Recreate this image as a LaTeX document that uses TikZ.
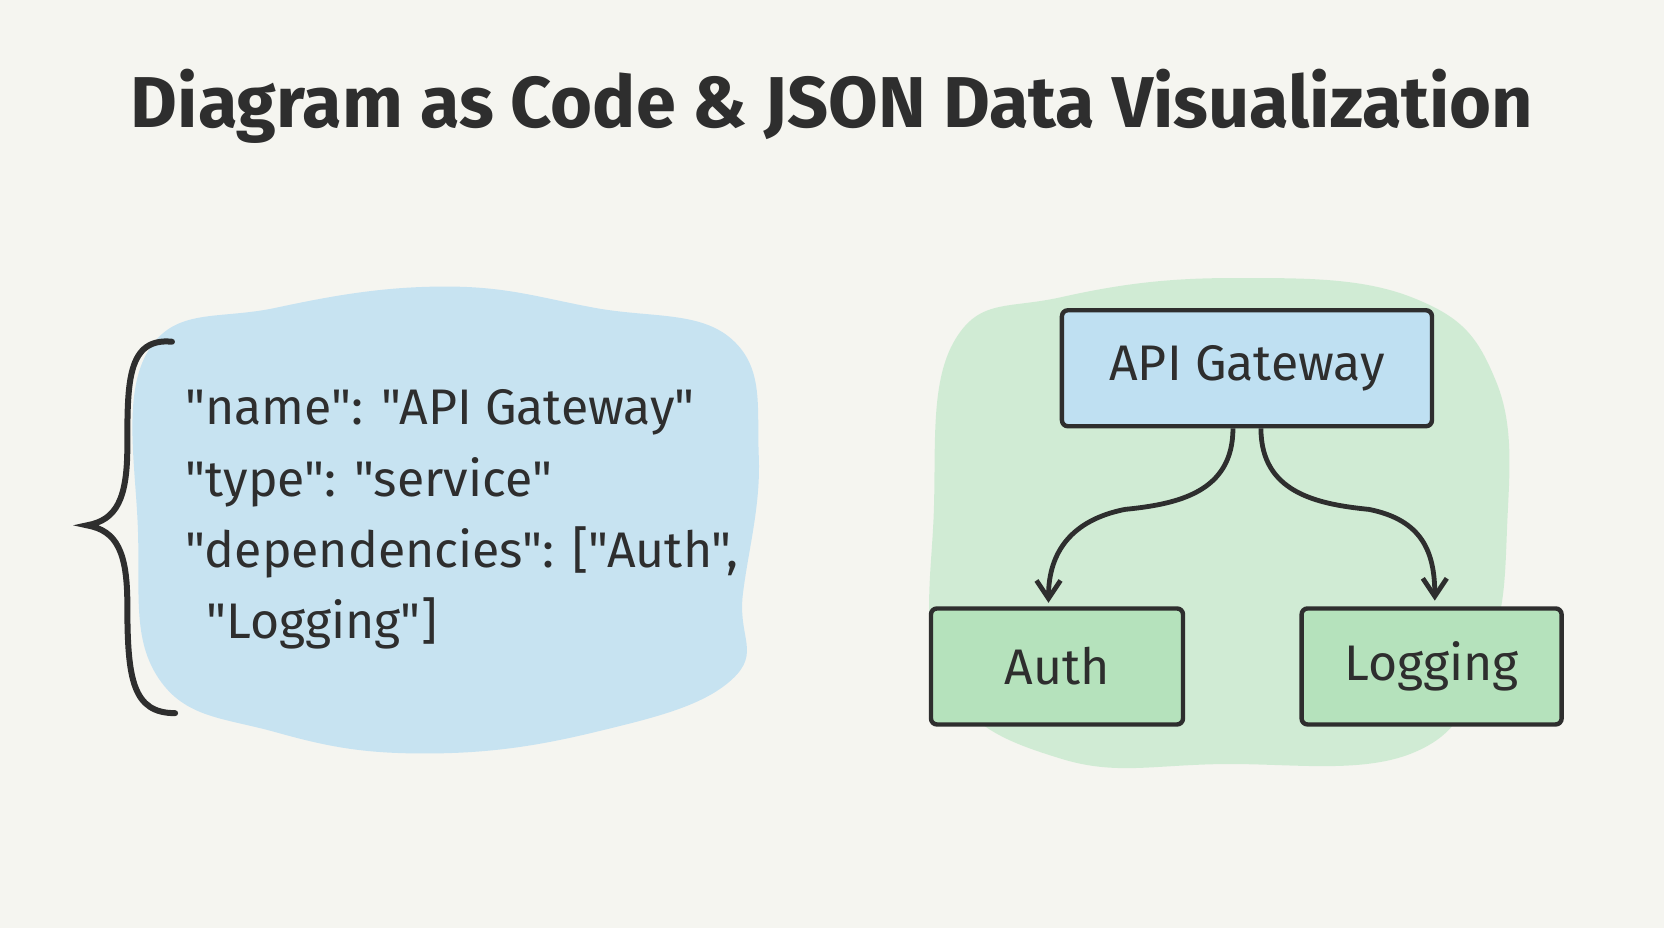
\documentclass[tikz,border=0pt]{standalone}
\usepackage{fontspec}
\setmainfont{Fira Sans}
\newfontfamily\jf{Fira Sans}[Ligatures=ResetAll]
\usetikzlibrary{arrows.meta}
\definecolor{bg}{HTML}{F5F5F0}
\definecolor{ink}{HTML}{2E2E2E}
\definecolor{blu}{HTML}{BFE0F2}
\definecolor{grn}{HTML}{CDEBD2}
\definecolor{grnbox}{HTML}{B5E2BC}
\begin{document}
\begin{tikzpicture}[x=0.5306pt,y=-0.5306pt,
  box/.style={draw=ink,line width=2.2pt,rounded corners=3pt,minimum height=58pt},
  lbl/.style={font=\jf\fontsize{25}{30}\selectfont,text=ink},
  arr/.style={draw=ink,line width=2.4pt,-{Straight Barb[length=9pt,width=12pt]}}]
\fill[bg] (0,0) rectangle (1568,874);
\useasboundingbox (0,0) rectangle (1568,874);
\node[font=\fontsize{36}{40}\selectfont\bfseries,text=ink] (title) at (784,100) {Diagram as Code \& JSON Data Visualization};
% blue blob
\fill[blu,opacity=0.85] plot[smooth cycle,tension=0.7] coordinates {(140,330) (260,290) (420,270) (560,290) (690,320) (715,430) (700,560) (690,640) (560,690) (400,710) (260,690) (150,640) (130,500)};
% green blob
\fill[grn,opacity=0.9] plot[smooth cycle,tension=0.7] coordinates {(900,320) (1000,280) (1160,262) (1330,280) (1410,360) (1420,500) (1400,620) (1330,710) (1150,720) (1000,715) (890,640) (880,480)};
% brace
\draw[ink,line width=3pt,line cap=round] (162,322) .. controls (120,318) and (120,360) .. (120,420) .. controls (120,470) and (110,490) .. (82,495) .. controls (110,500) and (120,520) .. (120,570) .. controls (120,640) and (125,672) .. (165,672);
% json text
\node[lbl,anchor=base west] (l1) at (168,400) {"name": "API Gateway"};
\node[lbl,anchor=base west] (l2) at (168,468) {"type": "service"};
\node[lbl,anchor=base west] (l3) at (168,535) {"dependencies": ["Auth",};
\node[lbl,anchor=base west] (l4) at (188,602) {"Logging"]};
% boxes
\node[box,fill=blu,minimum width=185pt,lbl] (api) at (1175,347) {API Gateway};
\node[box,fill=grnbox,minimum width=126pt,lbl] (auth) at (996,628) {Auth};
\node[box,fill=grnbox,minimum width=130pt,lbl] (log) at (1349,628) {Logging};
\draw[arr] ([xshift=-7pt]api.south) .. controls +(0,60) and +(50,-5) .. (1060,480) .. controls (1010,490) and (988,520) .. (988,568);
\draw[arr] ([xshift=7pt]api.south) .. controls +(0,60) and +(-50,-5) .. (1290,480) .. controls (1340,490) and (1352,520) .. (1352,566);
\end{tikzpicture}
\end{document}
